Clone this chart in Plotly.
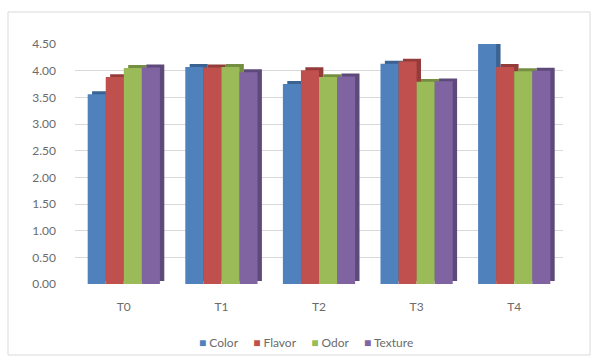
import plotly.graph_objects as go

categories = ["T0", "T1", "T2", "T3", "T4"]
series_names = ["Color", "Flavor", "Odor", "Texture"]
color_vals = [3.56, 4.07, 3.75, 4.13, 4.50]
flavor_vals = [3.88, 4.06, 4.01, 4.17, 4.07]
odor_vals = [4.05, 4.07, 3.88, 3.79, 3.99]
texture_vals = [4.06, 3.97, 3.89, 3.80, 4.00]
y_ticks = [0, 0.5, 1.0, 1.5, 2.0, 2.5, 3.0, 3.5, 4.0, 4.5]

values = [color_vals, flavor_vals, odor_vals, texture_vals]
front_colors = ["#4F81BD", "#C0504D", "#9BBB59", "#8064A2"]
side_colors = ["#3A6293", "#943C3A", "#758F42", "#5E4A7A"]

group_w = 0.74
bar_w = group_w / 4
dx = 0.045
dy = 0.055

fig = go.Figure()
for k, (name, vals) in enumerate(zip(series_names, values)):
    off = -group_w / 2 + k * bar_w
    fig.add_trace(go.Bar(
        x=categories, y=vals, base=dy, offset=off + dx, width=bar_w,
        marker=dict(color=side_colors[k], line=dict(width=0)),
        showlegend=False, hoverinfo="skip", cliponaxis=False))
    fig.add_trace(go.Bar(
        x=categories, y=vals, offset=off, width=bar_w, name=name,
        marker=dict(color=front_colors[k], line=dict(width=0)),
        showlegend=False, cliponaxis=False))

L, R, T, B = 75, 31, 44, 74
W, H = 594, 358
pw, ph = W - L - R, H - T - B

legend_text = "&nbsp;&nbsp;&nbsp;&nbsp;&nbsp;".join(
    f"<span style='color:{c}'>■</span> {n}" for n, c in zip(series_names, front_colors))

fig.update_layout(
    width=W, height=H, barmode="overlay",
    margin=dict(l=L, r=R, t=T, b=B, autoexpand=False),
    paper_bgcolor="white", plot_bgcolor="white",
    font=dict(family="Lato, Open Sans, sans-serif", size=12, color="#6B6B6B"),
    xaxis=dict(showgrid=False, showline=False, zeroline=False, ticks="",
               tickfont=dict(size=12, color="#6B6B6B"), ticklabelstandoff=14),
    yaxis=dict(range=[0, 4.5], tickvals=y_ticks, tickformat=".2f",
               showgrid=True, gridcolor="#D9D9D9", gridwidth=1,
               zeroline=False, showline=False, ticks="",
               ticklabelstandoff=18,
               tickfont=dict(size=12, color="#6B6B6B")),
    showlegend=False,
    annotations=[dict(xref="paper", yref="paper", x=(306 - L) / pw,
                      y=(T + ph - 342) / ph, xanchor="center", yanchor="middle",
                      text=legend_text, showarrow=False,
                      font=dict(size=12, color="#6B6B6B"))],
    shapes=[dict(type="rect", xref="paper", yref="paper",
                 x0=(8 - L) / pw, x1=(590 - L) / pw,
                 y0=(T + ph - 355) / ph, y1=(T + ph - 12) / ph,
                 line=dict(color="#D9D9D9", width=1), layer="below")],
)

fig.write_html("out.html")
